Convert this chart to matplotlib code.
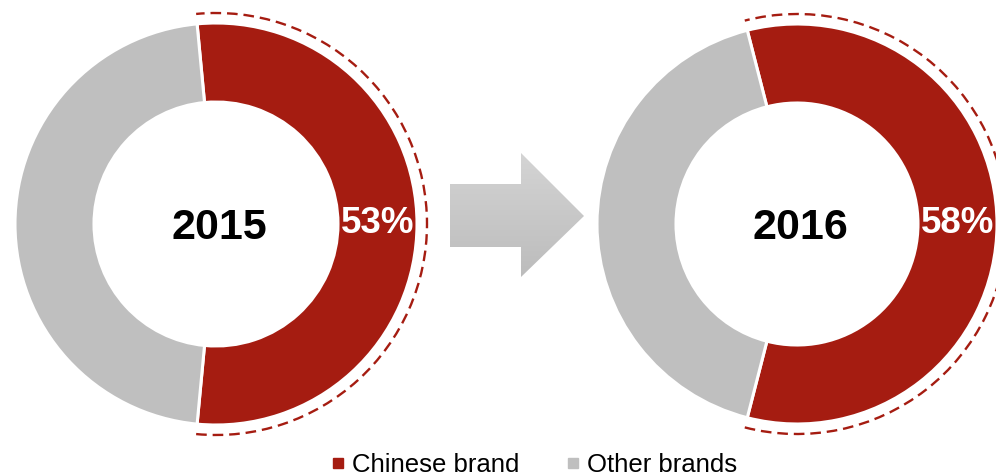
import numpy as np
import matplotlib.pyplot as plt
from matplotlib.patches import Arc, Polygon
from matplotlib.lines import Line2D

plt.rcParams['font.family'] = ['Liberation Sans', 'DejaVu Sans']

# market share of Chinese brands vs the rest
years = ['2015', '2016']
chinese_share = [53, 58]
other_share = [47, 42]
series_names = ['Chinese brand', 'Other brands']

RED = '#A51C11'
GREY = '#BFBFBF'

W, H = 996, 477
fig = plt.figure(figsize=(W / 100, H / 100), dpi=100)
ax = fig.add_axes([0, 0, 1, 1])

# donut geometry in pixel units (y measured upward)
centers = [(216, 252), (797, 252)]
radii = [201, 200]
ring_w = 79

for i, year in enumerate(years):
    vals = [chinese_share[i], other_share[i]]
    # red slice centred on 3 o'clock, drawn clockwise
    start = 360 * vals[0] / 100 / 2
    wedges, _ = ax.pie(vals, colors=[RED, GREY], startangle=start, counterclock=False,
                       center=centers[i], radius=radii[i],
                       wedgeprops=dict(width=ring_w, edgecolor='white', linewidth=2.2))
    red = wedges[0]
    cx, cy = centers[i]
    # dashed outline around the Chinese-brand slice
    r_arc = radii[i] + 10
    ax.add_patch(Arc((cx, cy), 2 * r_arc, 2 * r_arc, theta1=red.theta1, theta2=red.theta2,
                     color=RED, lw=1.7, linestyle=(0, (4.5, 2.5))))
    # value label in the middle of the ring
    mid = np.deg2rad((red.theta1 + red.theta2) / 2)
    r_mid = radii[i] - ring_w / 2
    ax.text(cx + r_mid * np.cos(mid), cy + r_mid * np.sin(mid) + 1, f'{chinese_share[i]}%',
            color='white', fontsize=26.5, fontweight='bold', ha='center', va='center')
    ax.text(cx + 3, cy - 3, year, color='black', fontsize=31, fontweight='bold',
            ha='center', va='center')

# grey gradient arrow between the two years
arrow_pts = [(450, 477 - 185), (521, 477 - 185), (521, 477 - 154), (584, 477 - 217),
             (521, 477 - 278), (521, 477 - 248), (450, 477 - 248)]
arrow = Polygon(arrow_pts, closed=True, facecolor='none', edgecolor='none')
ax.add_patch(arrow)
grad = np.linspace(0, 1, 256).reshape(-1, 1)
top_c = np.array([0xD4, 0xD4, 0xD4]) / 255
bot_c = np.array([0xBC, 0xBC, 0xBC]) / 255
img = top_c[None, None, :] * (1 - grad[:, :, None]) + bot_c[None, None, :] * grad[:, :, None]
im = ax.imshow(img, extent=[450, 584, 477 - 278, 477 - 154], origin='upper',
               aspect='auto', zorder=1)
im.set_clip_path(arrow)

ax.set_xlim(0, W)
ax.set_ylim(0, H)
ax.set_aspect('equal')
ax.axis('off')

handles = [Line2D([], [], marker='s', linestyle='none', markersize=6.5,
                  markerfacecolor=c, markeredgecolor=c) for c in [RED, GREY]]
ax.legend(handles, series_names, loc='center', bbox_to_anchor=(535 / W, 1 - 465.5 / H),
          ncol=2, frameon=False, fontsize=18.5, handlelength=0.4, handletextpad=0.35,
          columnspacing=1.9, borderpad=0, borderaxespad=0)

fig.savefig('out.png', dpi=100)
